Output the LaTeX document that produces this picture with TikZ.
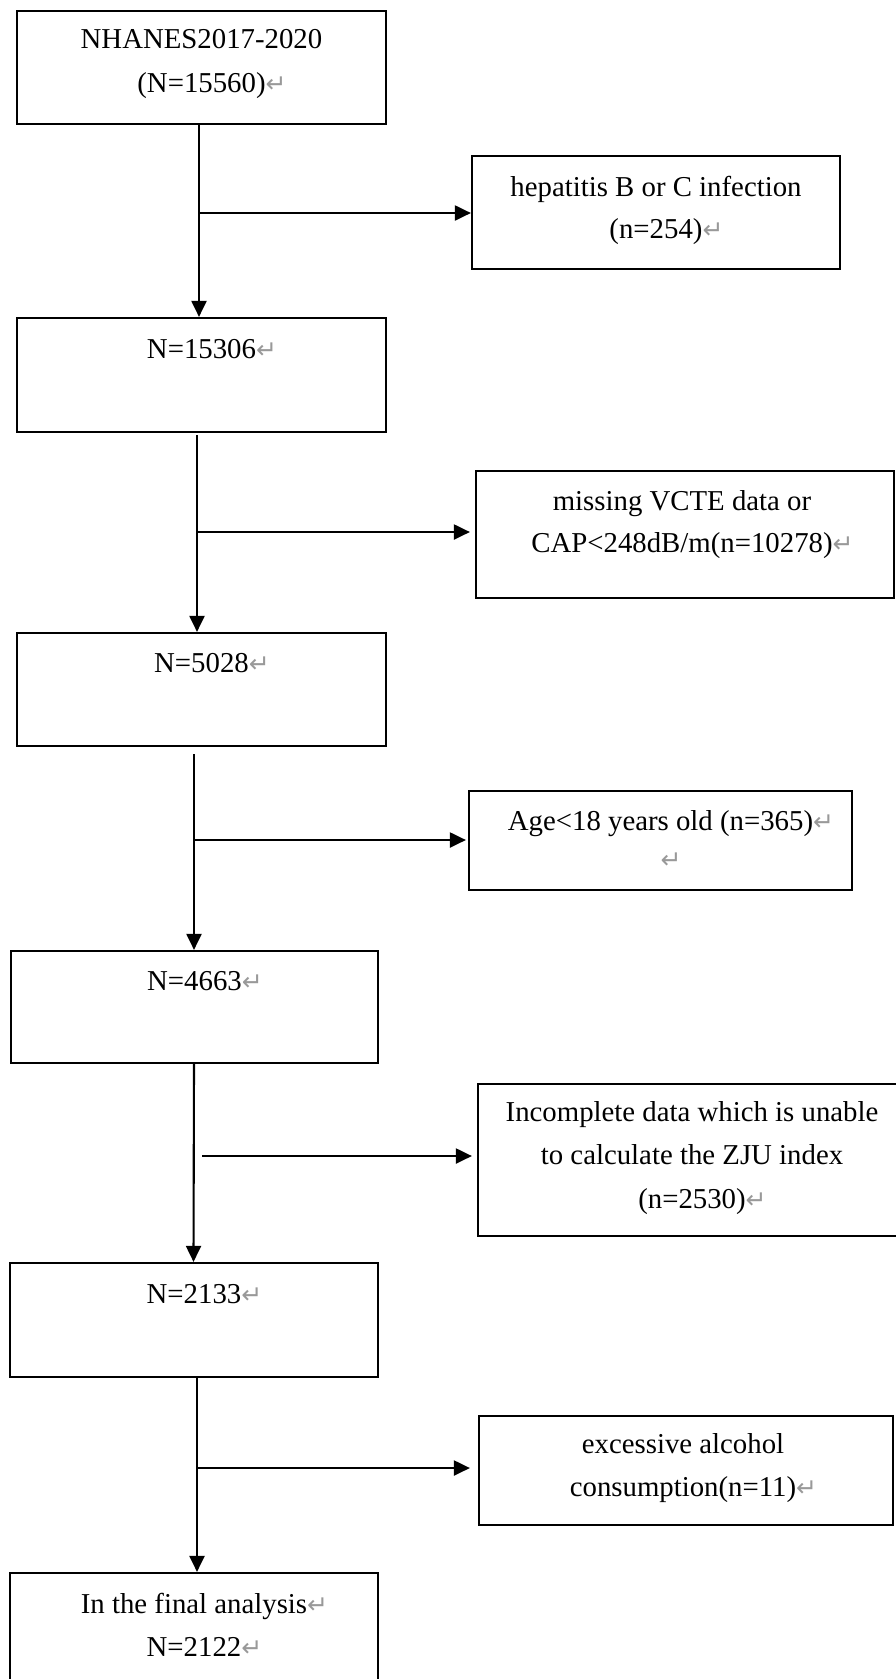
\documentclass[tikz,border=0pt]{standalone}
\usepackage{fontspec}
\setmainfont{Liberation Serif}
\newfontfamily\markfont{DejaVu Sans}
\usetikzlibrary{arrows.meta}
\newcommand{\parmark}{\rlap{\textcolor{black!40}{\markfont\fontsize{25}{25}\selectfont ↵}}}
\begin{document}
\begin{tikzpicture}[x=1pt,y=-1pt,
  box/.style={draw, line width=2.2pt, inner sep=0pt},
  txt/.style={anchor=base, inner sep=0pt, font=\fontsize{28.8}{43.5}\selectfont},
  arr/.style={line width=2.1pt, -{Triangle[length=16pt,width=15pt]}}]
\useasboundingbox (0,0) rectangle (896,1679);
\clip (0,0) rectangle (896,1679);
% main column boxes
\node[box, minimum width=369pt, minimum height=113pt] (b1) at (201.5,67.5) {};
\node[box, minimum width=369pt, minimum height=114pt] (b2) at (201.5,375) {};
\node[box, minimum width=369pt, minimum height=113pt] (b3) at (201.5,689.5) {};
\node[box, minimum width=367pt, minimum height=112pt] (b4) at (194.5,1007) {};
\node[box, minimum width=368pt, minimum height=114pt] (b5) at (194,1320) {};
\node[box, minimum width=368pt, minimum height=127pt] (b6) at (194,1636.5) {};
% exclusion boxes
\node[box, minimum width=368pt, minimum height=113pt] (hep) at (656,212.5) {};
\node[box, minimum width=418pt, minimum height=127pt] (vcte) at (685,534.5) {};
\node[box, minimum width=383pt, minimum height=99pt] (age) at (660.5,840.5) {};
\node[box, minimum width=428pt, minimum height=152pt] (inc) at (692,1160) {};
\node[box, minimum width=414pt, minimum height=109pt] (alc) at (686,1470.5) {};
% texts
\node[txt] (t1a) at ([yshift=-39pt]b1.north) {NHANES2017-2020};
\node[txt] (t1b) at ([yshift=-83pt]b1.north) {(N=15560)\parmark};
\node[txt] (t2) at ([yshift=-42pt]b2.north) {N=15306\parmark};
\node[txt] (t3) at ([yshift=-41pt]b3.north) {N=5028\parmark};
\node[txt] (t4) at ([yshift=-41pt]b4.north) {N=4663\parmark};
\node[txt] (t5) at ([yshift=-42pt]b5.north) {N=2133\parmark};
\node[txt] (t6a) at ([yshift=-42pt]b6.north) {In the final analysis\parmark};
\node[txt] (t6b) at ([yshift=-85pt]b6.north) {N=2122\parmark};
\node[txt] (th1) at ([yshift=-42pt]hep.north) {hepatitis B or C infection};
\node[txt] (th2) at ([yshift=-84pt]hep.north) {(n=254)\parmark};
\node[txt] (tv1) at ([shift={(-3pt,-41pt)}]vcte.north) {missing VCTE data or};
\node[txt] (tv2) at ([shift={(-3pt,-83pt)}]vcte.north) {CAP<248dB/m(n=10278)\parmark};
\node[txt] (ta1) at ([yshift=-41pt]age.north) {Age<18 years old (n=365)\parmark};
\node[txt] (ta2) at ([yshift=-79pt]age.north) {\parmark};
\node[txt] (ti1) at ([yshift=-39pt]inc.north) {Incomplete data which is unable};
\node[txt] (ti2) at ([yshift=-82pt]inc.north) {to calculate the ZJU index};
\node[txt] (ti3) at ([yshift=-126pt]inc.north) {(n=2530)\parmark};
\node[txt] (tc1) at ([shift={(-3pt,-39pt)}]alc.north) {excessive alcohol};
\node[txt] (tc2) at ([shift={(-3pt,-82pt)}]alc.north) {consumption(n=11)\parmark};
% vertical connectors
\draw[arr] ([xshift=-2.5pt]b1.south) -- ([xshift=-2.5pt]b2.north);
\draw[arr] ([shift={(-4.5pt,-2pt)}]b2.south) -- ([xshift=-4.5pt]b3.north);
\draw[arr] ([shift={(-7.5pt,-7pt)}]b3.south) -- ([xshift=-0.5pt]b4.north);
\draw[arr] ([xshift=-0.5pt]b4.south) -- ([xshift=-0.5pt]b5.north);
\draw[arr] ([xshift=3pt]b5.south) -- ([xshift=3pt]b6.north);
% branch connectors
\coordinate (j1) at (199,213);
\coordinate (j2) at (197,532);
\coordinate (j3) at (194,840);
\coordinate (j4) at (202,1156);
\coordinate (j5) at (197,1468);
\draw[arr] (j1) -- (j1 -| hep.west);
\draw[arr] (j2) -- ([xshift=-5pt]j2 -| vcte.west);
\draw[arr] (j3) -- ([xshift=-2pt]j3 -| age.west);
\draw[arr] (j4) -- ([xshift=-5pt]j4 -| inc.west);
\draw[arr] (j5) -- ([xshift=-8pt]j5 -| alc.west);
\end{tikzpicture}
\end{document}
